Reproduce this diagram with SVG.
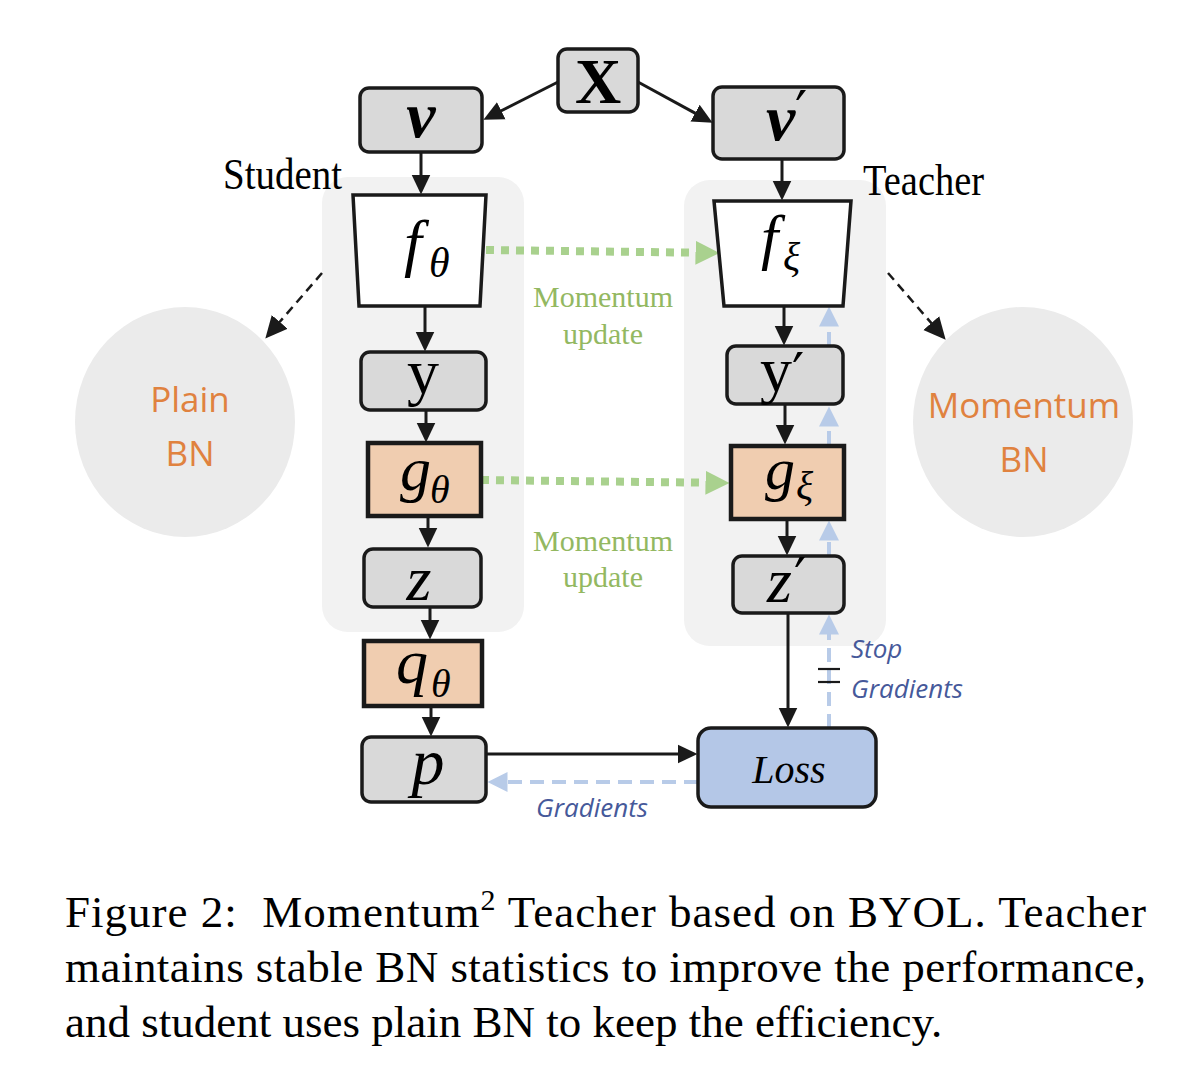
<svg xmlns="http://www.w3.org/2000/svg" width="1190" height="1078" viewBox="0 0 1190 1078">
<style>
.bg{fill:#F2F2F2;stroke:none}
.gbox{fill:#D9D9D9;stroke:#1a1a1a;stroke-width:3.5}
.obox{fill:#F0CDB0;stroke:#1a1a1a;stroke-width:4.5}
.wbox{fill:#FFFFFF;stroke:#1a1a1a;stroke-width:3.5}
.lbox{fill:#B4C7E7;stroke:#1a1a1a;stroke-width:3.5}
.circ{fill:#EBEBEB;stroke:none}
.mi{font-family:"Liberation Serif","Times New Roman",serif;font-style:italic;fill:#000}
.mr{font-family:"Liberation Serif","Times New Roman",serif;fill:#000}
.pr{font-family:"DejaVu Serif",serif;fill:#000;font-size:54px}
.lab{font-family:"Liberation Serif","Times New Roman",serif;fill:#000}
.grn{font-family:"Liberation Serif","Times New Roman",serif;fill:#93B861;font-size:30px;text-anchor:middle}
.bn{font-family:"Open Sans","Liberation Sans",sans-serif;fill:#E0823F;font-size:35px;text-anchor:middle}
.sg{font-family:"Open Sans","Liberation Sans",sans-serif;font-style:italic;fill:#46599A;font-size:26px}
.cap{font-family:"Liberation Serif","Times New Roman",serif;fill:#000;font-size:45px}
.ar{stroke:#1a1a1a;stroke-width:3;fill:none}
.da{stroke:#1a1a1a;stroke-width:2.5;fill:none;stroke-dasharray:9 6}
.gd{stroke:#A9D18E;stroke-width:8;fill:none;stroke-dasharray:8 7}
.bd{stroke:#B8CBE8;stroke-width:4;fill:none;stroke-dasharray:14 8}
</style>
<defs>
<marker id="ah" markerUnits="userSpaceOnUse" markerWidth="22" markerHeight="22" viewBox="0 -11 22 22" refX="0.5" refY="0" orient="auto"><path d="M0,-9.5 L20,0 L0,9.5z" fill="#1a1a1a"/></marker>
<marker id="ahd" markerUnits="userSpaceOnUse" markerWidth="24" markerHeight="24" viewBox="0 -12 24 24" refX="0.5" refY="0" orient="auto"><path d="M0,-10.5 L22,0 L0,10.5z" fill="#1a1a1a"/></marker>
<marker id="ahg" markerUnits="userSpaceOnUse" markerWidth="26" markerHeight="26" viewBox="0 -13 26 26" refX="0.5" refY="0" orient="auto"><path d="M0,-12 L24,0 L0,12z" fill="#A9D18E"/></marker>
<marker id="ahb" markerUnits="userSpaceOnUse" markerWidth="22" markerHeight="22" viewBox="0 -11 22 22" refX="0.5" refY="0" orient="auto"><path d="M0,-10 L20,0 L0,10z" fill="#B8CBE8"/></marker>
</defs>

<rect width="1190" height="1078" fill="#FFFFFF"/>

<g id="student-bg"><rect class="bg" x="322" y="177" width="202" height="455" rx="26"/></g>
<g id="teacher-bg"><rect class="bg" x="684" y="180" width="202" height="466" rx="26"/></g>

<g id="plain-bn">
<ellipse class="circ" cx="185" cy="422" rx="110" ry="115"/>
<text class="bn" x="190" y="412">Plain</text>
<text class="bn" x="190" y="466">BN</text>
</g>
<g id="momentum-bn">
<ellipse class="circ" cx="1023" cy="422" rx="110" ry="115"/>
<text class="bn" x="1024" y="418">Momentum</text>
<text class="bn" x="1024" y="472">BN</text>
</g>

<g id="connectors">
<line class="ar" x1="558" y1="82" x2="500.8" y2="111" marker-end="url(#ah)"/>
<line class="ar" x1="638" y1="82" x2="695.5" y2="113.4" marker-end="url(#ah)"/>
<line class="ar" x1="421" y1="152" x2="421" y2="175" marker-end="url(#ah)"/>
<line class="ar" x1="782" y1="159" x2="782" y2="181" marker-end="url(#ah)"/>
<line class="ar" x1="425" y1="306" x2="425" y2="332" marker-end="url(#ah)"/>
<line class="ar" x1="426" y1="410" x2="426" y2="423" marker-end="url(#ah)"/>
<line class="ar" x1="428" y1="516" x2="428" y2="528" marker-end="url(#ah)"/>
<line class="ar" x1="430" y1="607" x2="430" y2="620" marker-end="url(#ah)"/>
<line class="ar" x1="431" y1="707" x2="431" y2="717" marker-end="url(#ah)"/>
<line class="ar" x1="784" y1="306" x2="784" y2="326" marker-end="url(#ah)"/>
<line class="ar" x1="785" y1="404" x2="785" y2="425" marker-end="url(#ah)"/>
<line class="ar" x1="787" y1="519" x2="787" y2="536" marker-end="url(#ah)"/>
<line class="ar" x1="788" y1="613" x2="788" y2="708" marker-end="url(#ah)"/>
<line class="ar" x1="486" y1="754" x2="678" y2="754" marker-end="url(#ah)"/>
<line class="da" x1="322" y1="273" x2="279.4" y2="322.3" marker-end="url(#ahd)"/>
<line class="da" x1="888" y1="273" x2="931.6" y2="323.4" marker-end="url(#ahd)"/>
<line class="gd" x1="486" y1="250" x2="696" y2="252.7" marker-end="url(#ahg)"/>
<line class="gd" x1="481" y1="480" x2="706" y2="482.7" marker-end="url(#ahg)"/>
<line class="bd" x1="698" y1="782" x2="507" y2="782" marker-end="url(#ahb)"/>
<line class="bd" x1="829" y1="728" x2="829" y2="634" marker-end="url(#ahb)"/>
<line class="bd" x1="829" y1="556" x2="829" y2="540" marker-end="url(#ahb)"/>
<line class="bd" x1="829" y1="445" x2="829" y2="426" marker-end="url(#ahb)"/>
<line class="bd" x1="829" y1="346" x2="829" y2="326" marker-end="url(#ahb)"/>
<line stroke="#1a1a1a" stroke-width="2.2" x1="818" y1="669" x2="840" y2="669"/>
<line stroke="#1a1a1a" stroke-width="2.2" x1="818" y1="682" x2="840" y2="682"/>
</g>

<g id="node-X">
<rect class="gbox" x="558" y="49" width="80" height="63" rx="9"/>
<text class="mr" x="598" y="103" font-size="64" font-weight="bold" text-anchor="middle">X</text>
</g>
<g id="node-v">
<rect class="gbox" x="360" y="88" width="122" height="64" rx="9"/>
<text class="mi" x="421" y="137" font-size="66" font-weight="bold" text-anchor="middle">v</text>
</g>
<g id="node-v-prime">
<rect class="gbox" x="713" y="87" width="131" height="72" rx="9"/>
<text class="mi" x="766" y="140" font-size="66" font-weight="bold">v</text>
<text class="pr" x="795" y="130">′</text>
</g>

<g id="node-f-theta">
<path class="wbox" d="M353,195 L486,195 L480,306 L359,306 Z"/>
<text class="mi" x="404" y="264" font-size="64">f</text>
<text class="mi" x="429" y="277" font-size="42">θ</text>
</g>
<g id="node-f-xi">
<path class="wbox" d="M714,201 L851,201 L843,306 L724,306 Z"/>
<text class="mi" x="761" y="258" font-size="62">f</text>
<text class="mi" x="783" y="270" font-size="40">ξ</text>
</g>

<g id="node-y">
<rect class="gbox" x="361" y="352" width="125" height="58" rx="9"/>
<text class="mr" x="423" y="393" font-size="64" text-anchor="middle">y</text>
</g>
<g id="node-y-prime">
<rect class="gbox" x="727" y="346" width="116" height="58" rx="9"/>
<text class="mr" x="760" y="391" font-size="64">y</text>
<text class="pr" x="792" y="392">′</text>
</g>

<g id="node-g-theta">
<rect class="obox" x="368" y="443" width="113" height="73"/>
<text class="mi" x="400" y="490" font-size="62">g</text>
<text class="mi" x="430" y="503" font-size="40">θ</text>
</g>
<g id="node-g-xi">
<rect class="obox" x="731" y="446" width="113" height="73"/>
<text class="mi" x="765" y="489" font-size="60">g</text>
<text class="mi" x="796" y="499" font-size="40">ξ</text>
</g>

<g id="node-z">
<rect class="gbox" x="364" y="549" width="117" height="58" rx="9"/>
<text class="mi" x="419" y="600" font-size="64" text-anchor="middle">z</text>
</g>
<g id="node-z-prime">
<rect class="gbox" x="733" y="556" width="111" height="57" rx="9"/>
<text class="mi" x="767" y="602" font-size="64">z</text>
<text class="pr" x="794" y="597">′</text>
</g>

<g id="node-q-theta">
<rect class="obox" x="364" y="641" width="118" height="65"/>
<text class="mi" x="396" y="683" font-size="64">q</text>
<text class="mi" x="431" y="697" font-size="40">θ</text>
</g>
<g id="node-p">
<rect class="gbox" x="362" y="737" width="124" height="65" rx="9"/>
<text class="mi" x="428" y="784" font-size="66" text-anchor="middle">p</text>
</g>
<g id="node-loss">
<rect class="lbox" x="698" y="728" width="178" height="79" rx="13"/>
<text class="mi" x="789" y="783" font-size="40" text-anchor="middle">Loss</text>
</g>

<g id="labels">
<text class="lab" x="223" y="189" font-size="45" textLength="119" lengthAdjust="spacingAndGlyphs">Student</text>
<text class="lab" x="863" y="195" font-size="45" textLength="121" lengthAdjust="spacingAndGlyphs">Teacher</text>
<text class="grn" x="603" y="307">Momentum</text>
<text class="grn" x="603" y="344">update</text>
<text class="grn" x="603" y="551">Momentum</text>
<text class="grn" x="603" y="587">update</text>
<text class="sg" x="851" y="658">Stop</text>
<text class="sg" x="851" y="698">Gradients</text>
<text class="sg" x="536" y="817">Gradients</text>
</g>

<g id="caption">
<text class="cap" x="65" y="927" textLength="1081" lengthAdjust="spacing">Figure 2:&#160; Momentum<tspan font-size="30" dy="-17">2</tspan><tspan dy="17"> Teacher based on BYOL. Teacher</tspan></text>
<text class="cap" x="65" y="982" textLength="1081" lengthAdjust="spacing">maintains stable BN statistics to improve the performance,</text>
<text class="cap" x="65" y="1037">and student uses plain BN to keep the efficiency.</text>
</g>
</svg>
